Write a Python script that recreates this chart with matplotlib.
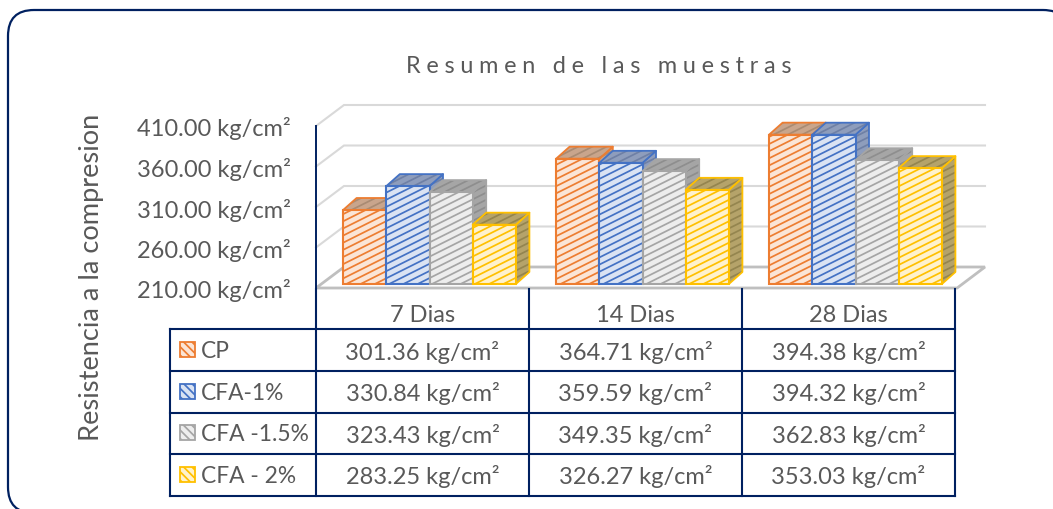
import matplotlib
matplotlib.use("Agg")
import matplotlib.pyplot as plt
import matplotlib.hatch as mhatch
import matplotlib.transforms as mtrans
import numpy as np
from matplotlib.patches import FancyBboxPatch, Polygon, Rectangle

categories = ["7 Dias", "14 Dias", "28 Dias"]
series_names = ["CP", "CFA-1%", "CFA -1.5%", "CFA - 2%"]
cp = [301.36, 364.71, 394.38]
cfa_1 = [330.84, 359.59, 394.32]
cfa_15 = [323.43, 349.35, 362.83]
cfa_2 = [283.25, 326.27, 353.03]
y_ticks = [210, 260, 310, 360, 410]
title = "Resumen de las muestras"
ylabel = "Resistencia a la compresion"

all_series = [cp, cfa_1, cfa_15, cfa_2]
edge_cols = ["#ED7D31", "#4472C4", "#A5A5A5", "#FFC000"]
fill_cols = ["#FBE5D6", "#DAE3F3", "#EDEDED", "#FFF2CC"]
side_fill = ["#C9A58C", "#8E9DBC", "#A6A6A6", "#B5A36A"]
side_hatch = ["#A98B73", "#6F80A5", "#8E8E8E", "#94854F"]
NAVY = "#002060"
TXT = "#595959"
W, H = 1053, 509
FS = 17.0


class ShallowHatch(mhatch.HatchPatternBase):
    """Wide upward diagonal, as in the reference (slope about 1/2)."""
    def __init__(self, hatch, density):
        self.on = hatch.count('/') > 0
        self.N = 14
        self.ks = np.arange(-self.N, self.N + 1)
        self.num_vertices = 2 * len(self.ks) if self.on else 0

    def set_vertices_and_codes(self, vertices, codes):
        if not self.on:
            return
        from matplotlib.path import Path
        for n, k in enumerate(self.ks):
            vertices[2 * n] = (0.0, k / self.N)
            vertices[2 * n + 1] = (1.0, k / self.N + 0.5)
            codes[2 * n] = Path.MOVETO
            codes[2 * n + 1] = Path.LINETO


mhatch._hatch_types = [ShallowHatch if c is mhatch.NorthEastHatch else c
                       for c in mhatch._hatch_types]

plt.rcParams['font.family'] = ['Lato', 'DejaVu Sans']
plt.rcParams['hatch.linewidth'] = 1.25

fig = plt.figure(figsize=(W / 100, H / 100), dpi=100, facecolor="white")


def axes_px(x0, y0, x1, y1, **kw):
    return fig.add_axes([x0 / W, 1 - y1 / H, (x1 - x0) / W, (y1 - y0) / H], **kw)


# page layer (frame, title, table), in pixels
pg = axes_px(0, 0, W, H, zorder=1)
pg.set_xlim(0, W); pg.set_ylim(H, 0); pg.axis("off")
pg.add_patch(FancyBboxPatch((8, 10), 1061, 503, boxstyle="round,pad=0,rounding_size=26",
                            fc="white", ec=NAVY, lw=1.6, clip_on=True))
pg.text(598.5, 66, "\u2009\u2009".join(title), ha="center", va="center", fontsize=16.8, color=TXT)
pg.text(92, 277, ylabel, rotation=90, ha="center", va="center", fontsize=19.6, color=TXT)

# front axis: value scale and 3D walls
ax = axes_px(316, 126, 955, 288, zorder=2)
ax.patch.set_alpha(0)
ax.set_xlim(0, 3); ax.set_ylim(210, 410)
for s in ["top", "right", "bottom"]:
    ax.spines[s].set_visible(False)
ax.spines["left"].set_color(NAVY); ax.spines["left"].set_linewidth(1.4)
ax.set_xticks([])
ax.set_yticks(y_ticks)
ax.set_yticklabels([f"{v:.2f} kg/cm²" for v in y_ticks], fontsize=FS, color=TXT)
ax.tick_params(axis="y", length=0, pad=18)
for lab in ax.get_yticklabels():
    lab.set_transform(lab.get_transform() + mtrans.Affine2D().translate(0, -1))
ddx, ddy = 28 / 213, 21 / 0.81
for v in y_ticks[1:]:
    ax.plot([0, ddx, 3 + 30 / 213], [v, v + ddy, v + ddy], color="#D9D9D9", lw=1.5,
            clip_on=False, solid_joinstyle="miter")
ax.add_patch(Polygon([(0, 210), (ddx, 210 + ddy), (3 + 30 / 213, 210 + ddy), (3.01, 210)],
                     closed=True, fc="white", ec="#BFBFBF", lw=2, clip_on=False))

# bars, drawn left to right with their depth faces
bx = axes_px(323, 122, 962, 284, zorder=3)
bx.patch.set_alpha(0); bx.axis("off")
bx.set_xlim(0, 3); bx.set_ylim(210, 410)
w = 43.2 / 213
dx, dy = 13.5 / 213, 12 / 0.81
order = 0
for i in range(len(categories)):
    for j, vals in enumerate(all_series):
        v = vals[i]
        xl = i + 0.5 + (j - 1.5) * w - w / 2
        xr = xl + w
        side = [(xr, 210), (xr + dx, 210 + dy), (xr + dx, v + dy), (xr, v)]
        top = [(xl, v), (xl + dx, v + dy), (xr + dx, v + dy), (xr, v)]
        for pts in (side, top):
            bx.add_patch(Polygon(pts, closed=True, fc=side_fill[j], ec=side_hatch[j], hatch="///",
                                 lw=0, clip_on=False, zorder=2 + order))
            bx.add_patch(Polygon(pts, closed=True, fill=False, ec=edge_cols[j], lw=1.3,
                                 clip_on=False, zorder=2 + order, joinstyle="round"))
        bx.bar(xl + w / 2, v - 210, w, bottom=210, color=fill_cols[j], edgecolor=edge_cols[j],
               hatch="///", lw=1.5, clip_on=False, zorder=2 + order)
        order += 1

# data table
top_layer = axes_px(0, 0, W, H, zorder=4)
top_layer.patch.set_alpha(0)
top_layer.set_xlim(0, W); top_layer.set_ylim(H, 0); top_layer.axis("off")
col_x = [316, 529, 742, 955]
row_y = [329, 371, 412.5, 454, 495.5]
lc = dict(color=NAVY, lw=1.5, solid_capstyle="projecting")
for x in col_x:
    top_layer.plot([x, x], [289, row_y[-1]], **lc)
top_layer.plot([170, 170], [row_y[0], row_y[-1]], **lc)
for y in row_y:
    top_layer.plot([170, 955], [y, y], **lc)
for c, name in enumerate(categories):
    top_layer.text((col_x[c] + col_x[c + 1]) / 2, 316, name, ha="center", va="center",
                   fontsize=FS, color=TXT)
for r, (name, vals) in enumerate(zip(series_names, all_series)):
    yc = (row_y[r] + row_y[r + 1]) / 2
    top_layer.add_patch(Rectangle((179.5, yc - 8), 15, 15, fc=fill_cols[r], ec=edge_cols[r],
                                  lw=1.3, hatch="\\\\\\\\"))
    top_layer.text(201, yc + 1.5, name, ha="left", va="center", fontsize=FS - 0.6, color=TXT)
    for c, v in enumerate(vals):
        top_layer.text((col_x[c] + col_x[c + 1]) / 2, yc + 2, f"{v:.2f} kg/cm²", ha="center",
                       va="center", fontsize=FS, color=TXT)

fig.savefig("out.png", dpi=100, facecolor="white")
